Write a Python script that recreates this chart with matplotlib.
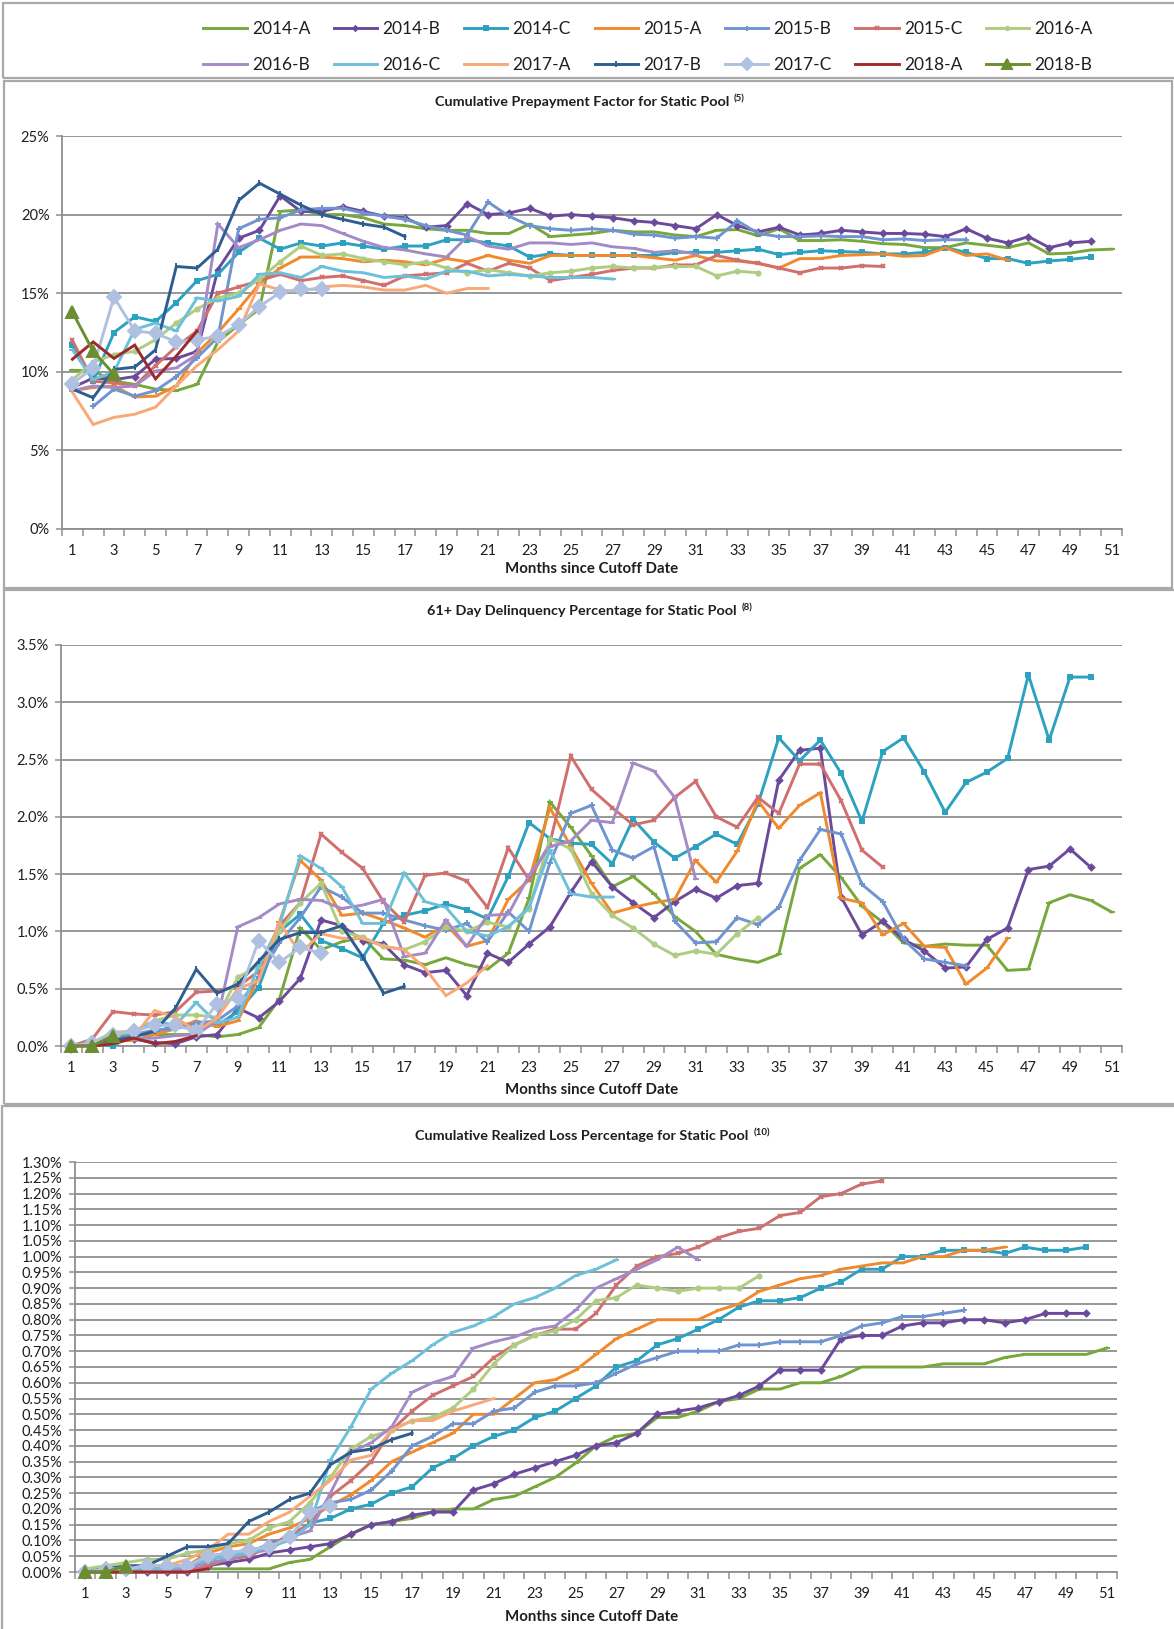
import numpy as np
import matplotlib
matplotlib.use("Agg")
import matplotlib.pyplot as plt
from matplotlib import font_manager
from matplotlib.patches import Rectangle


def has_font(name):
    try:
        font_manager.findfont(name, fallback_to_default=False)
        return True
    except Exception:
        return False


BASE = 'Lato' if has_font('Lato') else 'DejaVu Sans'
plt.rcParams['font.family'] = [BASE, 'DejaVu Sans']

# ---------------- data ----------------
pools = ['2014-A', '2014-B', '2014-C', '2015-A', '2015-B', '2015-C', '2016-A',
         '2016-B', '2016-C', '2017-A', '2017-B', '2017-C', '2018-A', '2018-B']

# Cumulative Prepayment Factor (%)
p1_2014A = [10.1, 10.05, 9.4, 9.2, 8.9, 8.8, 9.2, 11.9, 13.0, 14.0,
            20.2, 20.3, 20.0, 20.0, 19.8, 19.4, 19.3, 19.1, 19.0, 19.0,
            18.8, 18.8, 19.4, 18.6, 18.7, 18.8, 19.0, 18.9, 18.9, 18.7,
            18.6, 19.0, 19.05, 18.65, 19.1, 18.35, 18.35, 18.4, 18.3, 18.15,
            18.1, 17.9, 17.9, 18.2, 18.05, 17.9, 18.2, 17.5, 17.55, 17.75, 17.8]
p1_2014B = [9.0, 9.6, 9.5, 9.7, 10.8, 10.85, 11.3, 16.5, 18.5, 19.0,
            21.2, 20.2, 20.2, 20.5, 20.2, 19.9, 19.8, 19.2, 19.3, 20.7,
            20.0, 20.1, 20.4, 19.9, 20.0, 19.9, 19.8, 19.6, 19.5, 19.3,
            19.1, 20.0, 19.3, 18.9, 19.2, 18.7, 18.8, 19.0, 18.9, 18.8,
            18.8, 18.75, 18.6, 19.1, 18.5, 18.2, 18.6, 17.9, 18.2, 18.3]
p1_2014C = [11.7, 9.4, 12.5, 13.5, 13.2, 14.4, 15.8, 16.2, 17.6, 18.5,
            17.8, 18.2, 18.0, 18.2, 18.0, 17.8, 18.0, 18.0, 18.4, 18.4,
            18.2, 18.0, 17.3, 17.5, 17.4, 17.4, 17.4, 17.4, 17.4, 17.6,
            17.6, 17.6, 17.7, 17.8, 17.45, 17.6, 17.7, 17.65, 17.6, 17.5,
            17.5, 17.6, 17.9, 17.6, 17.2, 17.2, 16.9, 17.05, 17.15, 17.3]
p1_2015A = [8.8, 9.0, 9.1, 8.4, 8.45, 9.1, 11.2, 12.5, 14.0, 15.6,
            16.6, 17.3, 17.3, 17.2, 17.0, 17.1, 17.0, 16.8, 17.2, 17.0,
            17.4, 17.1, 16.9, 17.4, 17.4, 17.4, 17.4, 17.4, 17.25, 17.1,
            17.4, 17.05, 17.05, 16.9, 16.6, 17.2, 17.2, 17.4, 17.45, 17.5,
            17.35, 17.4, 17.9, 17.4, 17.5, 17.1]
p1_2015B = [None, 7.8, 8.9, 8.45, 8.8, 9.7, 10.9, 12.2, 19.1, 19.7,
            19.8, 20.3, 20.4, 20.4, 20.1, 19.9, 19.7, 19.3, 19.0, 18.7,
            20.8, 19.9, 19.3, 19.1, 19.0, 19.1, 19.0, 18.75, 18.7, 18.5,
            18.6, 18.5, 19.6, 18.8, 18.6, 18.6, 18.65, 18.6, 18.6, 18.4,
            18.45, 18.35, 18.4, 18.4]
p1_2015C = [12.0, 9.4, 9.3, 9.1, 10.4, 11.6, 12.6, 15.0, 15.4, 15.8,
            16.2, 15.8, 16.0, 16.1, 15.8, 15.5, 16.1, 16.2, 16.3, 16.9,
            16.4, 16.9, 16.6, 15.8, 16.0, 16.2, 16.45, 16.6, 16.6, 16.8,
            16.8, 17.4, 17.1, 16.9, 16.6, 16.3, 16.6, 16.6, 16.75, 16.7]
p1_2016A = [9.5, 10.6, 11.1, 11.3, 12.05, 13.1, 14.0, 14.7, 15.0, 15.9,
            17.0, 18.0, 17.4, 17.5, 17.2, 17.0, 16.8, 17.0, 16.6, 16.3,
            16.5, 16.3, 16.1, 16.3, 16.4, 16.6, 16.7, 16.6, 16.65, 16.7,
            16.7, 16.1, 16.4, 16.3]
p1_2016B = [8.8, 9.1, 9.0, 9.1, 10.05, 10.25, 11.1, 19.4, 17.9, 18.4,
            19.0, 19.4, 19.3, 18.8, 18.3, 17.9, 17.75, 17.5, 17.3, 18.6,
            18.0, 17.8, 18.2, 18.2, 18.1, 18.2, 17.95, 17.85, 17.6, 17.7,
            17.5]
p1_2016C = [11.4, 9.5, 10.0, 12.7, 13.1, 12.6, 14.7, 14.5, 14.8, 16.2,
            16.3, 16.0, 16.7, 16.4, 16.3, 16.0, 16.1, 15.9, 16.4, 16.4,
            16.1, 16.2, 16.1, 16.0, 16.0, 16.0, 15.9]
p1_2017A = [8.7, 6.65, 7.1, 7.3, 7.75, 9.1, 10.4, 11.4, 12.6, 15.6,
            15.2, 15.1, 15.4, 15.5, 15.4, 15.2, 15.2, 15.5, 15.0, 15.3, 15.3]
p1_2017B = [8.9, 8.35, 10.15, 10.3, 11.4, 16.7, 16.6, 17.8, 20.9, 22.0,
            21.3, 20.6, 20.0, 19.7, 19.4, 19.2, 18.6]
p1_2017C = [9.25, 10.25, 14.75, 12.6, 12.45, 11.9, 12.05, 12.25, 13.0, 14.15,
            15.05, 15.25, 15.25]
p1_2018A = [10.8, 11.9, 10.85, 11.7, 9.55, 11.0, 12.6]
p1_2018B = [13.8, 11.3, 9.85]

# 61+ Day Delinquency (%)
p2_2014A = [0.0, 0.03, 0.08, 0.10, 0.10, 0.10, 0.10, 0.08, 0.10, 0.16,
            0.41, 1.03, 0.84, 0.91, 0.95, 0.76, 0.75, 0.71, 0.77, 0.71,
            0.67, 0.81, 1.29, 2.13, 1.91, 1.66, 1.39, 1.48, 1.33, 1.13,
            1.00, 0.80, 0.76, 0.73, 0.80, 1.55, 1.67, 1.47, 1.22, 1.08,
            0.90, 0.87, 0.89, 0.88, 0.88, 0.66, 0.67, 1.25, 1.32, 1.27, 1.17]
p2_2014B = [0.0, 0.01, 0.03, 0.06, 0.03, 0.02, 0.08, 0.10, 0.33, 0.245,
            0.39, 0.59, 1.10, 1.05, 0.92, 0.89, 0.71, 0.64, 0.66, 0.44,
            0.81, 0.73, 0.89, 1.04, 1.34, 1.61, 1.39, 1.25, 1.12, 1.26,
            1.37, 1.29, 1.40, 1.42, 2.32, 2.58, 2.60, 1.30, 0.97, 1.09,
            0.93, 0.83, 0.68, 0.69, 0.93, 1.03, 1.54, 1.57, 1.72, 1.56]
p2_2014C = [0.0, 0.02, 0.0, 0.10, 0.12, 0.18, 0.20, 0.18, 0.30, 0.51,
            1.0, 1.15, 0.92, 0.85, 0.77, 1.07, 1.14, 1.18, 1.24, 1.19,
            1.11, 1.48, 1.95, 1.81, 1.77, 1.76, 1.59, 1.98, 1.78, 1.64,
            1.74, 1.85, 1.76, 2.11, 2.69, 2.49, 2.67, 2.38, 1.96, 2.57,
            2.69, 2.39, 2.04, 2.30, 2.39, 2.51, 3.24, 2.67, 3.22, 3.22]
p2_2015A = [0.0, 0.02, 0.04, 0.05, 0.10, 0.15, 0.22, 0.17, 0.22, 0.60,
            1.08, 1.62, 1.45, 1.14, 1.16, 1.10, 1.03, 0.95, 1.06, 0.87,
            0.92, 1.28, 1.45, 2.08, 1.74, 1.42, 1.16, 1.21, 1.25, 1.28,
            1.62, 1.43, 1.70, 2.14, 1.90, 2.10, 2.21, 1.29, 1.25, 0.97,
            1.07, 0.87, 0.86, 0.54, 0.68, 0.94]
p2_2015B = [0.0, 0.02, 0.05, 0.10, 0.14, 0.15, 0.20, 0.22, 0.35, 0.60,
            0.90, 1.12, 1.39, 1.30, 1.16, 1.16, 1.10, 1.05, 1.01, 1.07,
            0.91, 1.17, 1.00, 1.60, 2.03, 2.10, 1.71, 1.64, 1.74, 1.09,
            0.90, 0.91, 1.12, 1.06, 1.21, 1.62, 1.89, 1.85, 1.41, 1.26,
            0.93, 0.76, 0.73, 0.70]
p2_2015C = [0.0, 0.06, 0.30, 0.28, 0.27, 0.30, 0.47, 0.48, 0.52, 0.65,
            1.05, 1.25, 1.85, 1.69, 1.55, 1.26, 1.08, 1.49, 1.51, 1.44,
            1.21, 1.73, 1.45, 1.77, 2.53, 2.24, 2.08, 1.93, 1.97, 2.17,
            2.31, 2.00, 1.91, 2.17, 2.03, 2.46, 2.46, 2.14, 1.71, 1.56]
p2_2016A = [0.0, 0.03, 0.12, 0.13, 0.22, 0.27, 0.27, 0.25, 0.60, 0.70,
            1.0, 1.25, 1.42, 1.0, 0.95, 0.87, 0.84, 0.91, 1.04, 1.0,
            1.08, 1.04, 1.20, 1.81, 1.72, 1.33, 1.14, 1.03, 0.89, 0.79,
            0.83, 0.80, 0.98, 1.12]
p2_2016B = [0.0, 0.01, 0.05, 0.06, 0.07, 0.09, 0.10, 0.22, 1.04, 1.12,
            1.24, 1.28, 1.27, 1.20, 1.23, 1.28, 0.78, 0.81, 1.10, 0.87,
            1.14, 1.15, 1.49, 1.74, 1.79, 1.97, 1.95, 2.47, 2.40, 2.17, 1.46]
p2_2016C = [0.0, 0.03, 0.10, 0.12, 0.22, 0.18, 0.38, 0.20, 0.25, 0.70,
            1.05, 1.66, 1.55, 1.39, 1.07, 1.07, 1.51, 1.26, 1.21, 1.0,
            0.96, 1.04, 1.21, 1.71, 1.33, 1.30, 1.30]
p2_2017A = [0.0, 0.03, 0.05, 0.08, 0.31, 0.25, 0.13, 0.24, 0.50, 0.57,
            1.08, 0.81, 0.98, 0.94, 0.94, 0.87, 0.84, 0.68, 0.44, 0.55, 0.70]
p2_2017B = [0.0, 0.03, 0.05, 0.08, 0.13, 0.33, 0.67, 0.46, 0.54, 0.74,
            0.93, 0.99, 0.99, 1.05, 0.78, 0.46, 0.52]
p2_2017C = [0.0, 0.03, 0.10, 0.13, 0.18, 0.18, 0.13, 0.37, 0.42, 0.92,
            0.73, 0.86, 0.81]
p2_2018A = [0.0, 0.0, 0.02, 0.07, 0.02, 0.04, 0.09]
p2_2018B = [0.0, 0.0, 0.09]

# Cumulative Realized Loss (%)
p3_2014A = [0.01, 0.01, 0.01, 0.01, 0.01, 0.01, 0.01, 0.01, 0.01, 0.01,
            0.03, 0.04, 0.08, 0.12, 0.15, 0.16, 0.17, 0.19, 0.20, 0.20,
            0.23, 0.24, 0.27, 0.30, 0.345, 0.40, 0.43, 0.44, 0.49, 0.49,
            0.51, 0.54, 0.55, 0.58, 0.58, 0.60, 0.60, 0.62, 0.65, 0.65,
            0.65, 0.65, 0.66, 0.66, 0.66, 0.68, 0.69, 0.69, 0.69, 0.69, 0.71]
p3_2014B = [0.0, 0.0, 0.0, 0.0, 0.0, 0.0, 0.02, 0.03, 0.04, 0.06,
            0.07, 0.08, 0.09, 0.12, 0.15, 0.16, 0.18, 0.19, 0.19, 0.26,
            0.28, 0.31, 0.33, 0.35, 0.37, 0.40, 0.41, 0.44, 0.50, 0.51,
            0.52, 0.54, 0.56, 0.59, 0.64, 0.64, 0.64, 0.74, 0.75, 0.75,
            0.78, 0.79, 0.79, 0.80, 0.80, 0.79, 0.80, 0.82, 0.82, 0.82]
p3_2014C = [0.0, 0.0, 0.0, 0.01, 0.02, 0.02, 0.04, 0.05, 0.06, 0.09,
            0.11, 0.155, 0.17, 0.20, 0.215, 0.25, 0.27, 0.33, 0.36, 0.40,
            0.43, 0.45, 0.49, 0.51, 0.55, 0.59, 0.65, 0.67, 0.72, 0.74,
            0.77, 0.80, 0.84, 0.86, 0.86, 0.87, 0.90, 0.92, 0.96, 0.96,
            1.00, 1.00, 1.02, 1.02, 1.02, 1.01, 1.03, 1.02, 1.02, 1.03]
p3_2015A = [0.0, 0.0, 0.01, 0.01, 0.01, 0.02, 0.06, 0.08, 0.09, 0.12,
            0.14, 0.17, 0.21, 0.245, 0.29, 0.35, 0.38, 0.41, 0.44, 0.50,
            0.50, 0.55, 0.60, 0.61, 0.64, 0.69, 0.74, 0.77, 0.80, 0.80,
            0.80, 0.83, 0.85, 0.89, 0.91, 0.93, 0.94, 0.96, 0.97, 0.98,
            0.98, 1.00, 1.00, 1.02, 1.02, 1.03]
p3_2015B = [0.0, 0.0, 0.01, 0.02, 0.02, 0.02, 0.05, 0.06, 0.07, 0.08,
            0.11, 0.19, 0.22, 0.23, 0.26, 0.32, 0.40, 0.43, 0.47, 0.47,
            0.51, 0.52, 0.57, 0.59, 0.59, 0.60, 0.63, 0.66, 0.68, 0.70,
            0.70, 0.70, 0.72, 0.72, 0.73, 0.73, 0.73, 0.75, 0.78, 0.79,
            0.81, 0.81, 0.82, 0.83]
p3_2015C = [0.0, 0.0, 0.0, 0.0, 0.0, 0.0, 0.02, 0.04, 0.05, 0.08,
            0.12, 0.15, 0.24, 0.29, 0.35, 0.45, 0.51, 0.56, 0.59, 0.62,
            0.68, 0.72, 0.75, 0.77, 0.77, 0.82, 0.91, 0.97, 1.00, 1.01,
            1.03, 1.06, 1.08, 1.09, 1.13, 1.14, 1.19, 1.20, 1.23, 1.24]
p3_2016A = [0.01, 0.02, 0.03, 0.04, 0.04, 0.06, 0.07, 0.09, 0.10, 0.14,
            0.16, 0.22, 0.30, 0.39, 0.43, 0.45, 0.48, 0.49, 0.52, 0.58,
            0.66, 0.72, 0.75, 0.765, 0.80, 0.86, 0.87, 0.91, 0.90, 0.89,
            0.90, 0.90, 0.90, 0.94]
p3_2016B = [0.0, 0.0, 0.01, 0.01, 0.01, 0.01, 0.03, 0.04, 0.06, 0.07,
            0.11, 0.13, 0.25, 0.38, 0.41, 0.46, 0.57, 0.60, 0.62, 0.71,
            0.73, 0.745, 0.77, 0.78, 0.83, 0.90, 0.93, 0.96, 0.99, 1.03, 0.99]
p3_2016C = [0.0, 0.0, 0.01, 0.01, 0.01, 0.02, 0.04, 0.05, 0.06, 0.08,
            0.10, 0.15, 0.355, 0.46, 0.58, 0.63, 0.67, 0.72, 0.76, 0.78,
            0.81, 0.85, 0.87, 0.90, 0.94, 0.96, 0.99]
p3_2017A = [0.0, 0.0, 0.01, 0.02, 0.02, 0.04, 0.07, 0.12, 0.12, 0.16,
            0.19, 0.24, 0.29, 0.355, 0.37, 0.45, 0.48, 0.48, 0.51, 0.53, 0.55]
p3_2017B = [0.0, 0.01, 0.02, 0.02, 0.05, 0.08, 0.08, 0.09, 0.16, 0.19,
            0.23, 0.25, 0.34, 0.38, 0.39, 0.42, 0.44]
p3_2017C = [0.0, 0.01, 0.01, 0.02, 0.02, 0.02, 0.05, 0.06, 0.07, 0.08,
            0.11, 0.19, 0.21]
p3_2018A = [0.0, 0.0, 0.0, 0.0, 0.0, 0.0, 0.01]
p3_2018B = [0.0, 0.0, 0.02]

prepay = [p1_2014A, p1_2014B, p1_2014C, p1_2015A, p1_2015B, p1_2015C, p1_2016A,
          p1_2016B, p1_2016C, p1_2017A, p1_2017B, p1_2017C, p1_2018A, p1_2018B]
delinq = [p2_2014A, p2_2014B, p2_2014C, p2_2015A, p2_2015B, p2_2015C, p2_2016A,
          p2_2016B, p2_2016C, p2_2017A, p2_2017B, p2_2017C, p2_2018A, p2_2018B]
loss = [p3_2014A, p3_2014B, p3_2014C, p3_2015A, p3_2015B, p3_2015C, p3_2016A,
        p3_2016B, p3_2016C, p3_2017A, p3_2017B, p3_2017C, p3_2018A, p3_2018B]

p1_ticks = [0, 5, 10, 15, 20, 25]
p2_ticks = [0.0, 0.5, 1.0, 1.5, 2.0, 2.5, 3.0, 3.5]
p3_ticks = [i * 0.05 for i in range(27)]
month_labels = list(range(1, 52, 2))

titles = ['Cumulative Prepayment Factor for Static Pool',
          '61+ Day Delinquency Percentage for Static Pool',
          'Cumulative Realized Loss Percentage for Static Pool']
notes = ['(5)', '(8)', '(10)']
xlabel = 'Months since Cutoff Date'

# ---------------- styles ----------------
colors = ['#78A83B', '#6B4A9B', '#2CA1C0', '#F08A2C', '#7094D0', '#D0706E', '#AFCD82',
          '#A48BC8', '#6CC0DA', '#F9A877', '#2E5E91', '#AFC0E0', '#9E2B2B', '#6B8E30']
markers = ['_', 'D', 's', '_', '+', 'x', 'o', '_', '_', 'None', '|', 'D', 'None', '^']
msizes = [5, 3, 3.5, 5, 4.5, 3.5, 3, 5, 5, 0, 5, 7.5, 0, 9]

W, H = 1174, 1629
fig = plt.figure(figsize=(W / 100, H / 100), dpi=100)
fig.patch.set_facecolor('white')


def fx(x):
    return x / W


def fy(y):
    return 1 - y / H


GRID = '#8F8F8F'
TXT = '#1E1E1E'

# axes rectangles in pixels: left, right, top, bottom
ax_px = [(62, 1122, 136, 529), (61, 1122, 645, 1046), (75, 1117, 1162, 1572)]
ylims = [(0, 25), (0, 3.5), (0, 1.30)]
yticks = [p1_ticks, p2_ticks, p3_ticks]
yfmt = [lambda v: f'{v:.0f}%', lambda v: f'{v:.1f}%', lambda v: f'{v:.2f}%']
datasets = [prepay, delinq, loss]
title_y = [102, 611, 1136]
xlabel_y = [569, 1090, 1617]

axes = []
for k in range(3):
    l, r, t, b = ax_px[k]
    ax = fig.add_axes([fx(l), fy(b), fx(r) - fx(l), fy(t) - fy(b)])
    axes.append(ax)
    for i, vals in enumerate(datasets[k]):
        y = np.array([np.nan if v is None else v for v in vals], dtype=float)
        x = np.arange(1, len(y) + 1)
        ax.plot(x, y, color=colors[i], lw=2.1, marker=markers[i], ms=msizes[i],
                mec=colors[i], mfc=colors[i], mew=1.4, label=pools[i],
                solid_joinstyle='miter', zorder=3 + i * 0.01, clip_on=False)
    ax.set_xlim(0.5, 51.5)
    ax.set_ylim(*ylims[k])
    ax.set_yticks(yticks[k])
    ax.set_yticklabels([yfmt[k](v) for v in yticks[k]])
    ax.set_xticks(month_labels)
    ax.set_xticklabels([str(m) for m in month_labels])
    ax.set_xticks(np.arange(0.5, 52, 1.0), minor=True)
    ax.tick_params(axis='x', which='major', length=0, pad=11, labelsize=10.5, labelcolor=TXT)
    ax.tick_params(axis='x', which='minor', length=5, width=1.1, color=GRID, direction='out')
    ax.tick_params(axis='y', which='major', length=4, width=1.1, color=GRID, pad=5,
                   labelsize=10.5, labelcolor=TXT)
    ax.yaxis.grid(True, color=GRID, lw=1.3)
    ax.set_axisbelow(True)
    for s in ['top', 'right']:
        ax.spines[s].set_visible(False)
    for s in ['left', 'bottom']:
        ax.spines[s].set_color(GRID)
        ax.spines[s].set_linewidth(1.3)
    ax.set_facecolor('none')

# titles with superscript note
fig.canvas.draw()
renderer = fig.canvas.get_renderer()
inv = fig.transFigure.inverted()
for k in range(3):
    t = fig.text(fx(582), fy(title_y[k]), titles[k], ha='center', va='center',
                 fontsize=10.4, fontweight='bold', color=TXT)
    bb = t.get_window_extent(renderer=renderer)
    x1, y1 = inv.transform((bb.x1, bb.y1))
    fig.text(x1 + 0.004, y1 + 0.001, notes[k], ha='left', va='top', fontsize=7,
             fontweight='bold', color=TXT)
    fig.text(fx(592), fy(xlabel_y[k]), xlabel, ha='center', va='center',
             fontsize=10.8, fontweight='bold', color=TXT)

# legend (row-major order across 7 columns)
handles, labels = axes[0].get_legend_handles_labels()
order = []
for c in range(7):
    order += [c, c + 7]
leg = fig.legend([handles[i] for i in order], [labels[i] for i in order], ncol=7,
                 loc='center', bbox_to_anchor=(fx(648), fy(47)), frameon=False,
                 prop={'size': 12.5},
                 handlelength=2.5, handletextpad=0.3, columnspacing=1.35,
                 labelspacing=1.2, markerscale=0.8)
for txt in leg.get_texts():
    txt.set_color(TXT)

# panel frames
BORDER = '#A9A9A9'
frames = [(3, 3, 1176, 78), (4, 81, 1172, 588), (4, 590, 1176, 1104), (2, 1106, 1176, 1640)]
for (x0, y0, x1, y1) in frames:
    fig.add_artist(Rectangle((fx(x0), fy(y1)), fx(x1) - fx(x0), fy(y0) - fy(y1),
                             transform=fig.transFigure, fill=False, ec=BORDER, lw=1.6,
                             clip_on=False))

fig.savefig('out.png', dpi=100, facecolor='white')
